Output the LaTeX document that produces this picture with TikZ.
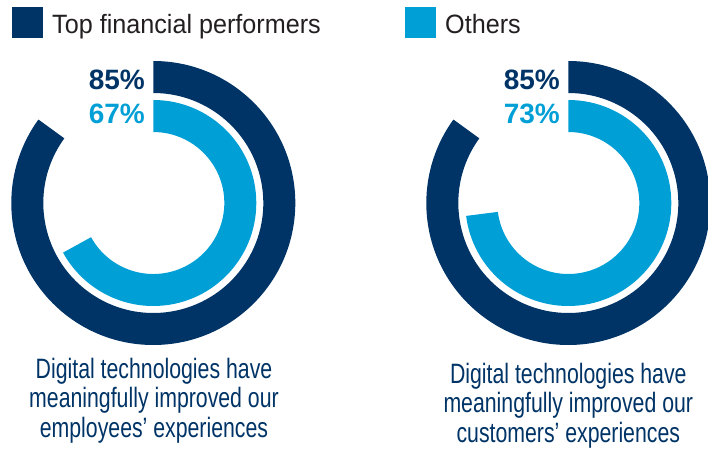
\documentclass[tikz,border=0pt]{standalone}
\usepackage{fontspec}
\setmainfont{Liberation Sans}
\newfontfamily\legfont[FakeStretch=0.95]{Liberation Sans}
\newfontfamily\condfont[FakeStretch=0.76]{Liberation Sans}
\definecolor{navy}{HTML}{003366}
\definecolor{sky}{HTML}{009FD6}
\definecolor{ink}{HTML}{231F20}
\begin{document}
\begin{tikzpicture}[x=1pt,y=1pt,
  legend/.style={anchor=base west,inner sep=0,text=ink,font=\legfont\fontsize{26.5}{30}\selectfont},
  pct/.style={anchor=base east,inner sep=0,font=\fontsize{28}{30}\selectfont\bfseries},
  caption/.style={anchor=north,inner sep=0,align=center,text=navy,font=\condfont\fontsize{28}{29.5}\selectfont}]
\useasboundingbox (0,0) rectangle (708,450);
%legend
 \fill[navy] (12,412) rectangle (43,443); %top square
 \node[legend] (legTop) at (52,416.7) {Top financial performers};
 \fill[sky] (405,412) rectangle (436,443); %others square
 \node[legend] (legOth) at (445,416.7) {Others};
%left chart
 \coordinate (cL) at (153.3,247);
 \fill[navy] ([shift={(90:142)}]cL) arc[start angle=90,end angle=-216,radius=142]
   -- ([shift={(-216:110)}]cL) arc[start angle=-216,end angle=90,radius=110] -- cycle; %85 ring
 \fill[sky] ([shift={(90:103)}]cL) arc[start angle=90,end angle=-151.2,radius=103]
   -- ([shift={(-151.2:71)}]cL) arc[start angle=-151.2,end angle=90,radius=71] -- cycle; %67 ring
 \node[pct,text=navy] (pctTopL) at (145,360.7) {85\%};
 \node[pct,text=sky] (pctOthL) at (145,326.7) {67\%};
 \node[caption] (capL) at (154,92) {Digital technologies have\\meaningfully improved our\\employees’ experiences};
%right chart
 \coordinate (cR) at (568.3,247);
 \fill[navy] ([shift={(90:142)}]cR) arc[start angle=90,end angle=-216,radius=142]
   -- ([shift={(-216:110)}]cR) arc[start angle=-216,end angle=90,radius=110] -- cycle; %85 ring
 \fill[sky] ([shift={(90:103)}]cR) arc[start angle=90,end angle=-172.8,radius=103]
   -- ([shift={(-172.8:71)}]cR) arc[start angle=-172.8,end angle=90,radius=71] -- cycle; %73 ring
 \node[pct,text=navy] (pctTopR) at (560,360.7) {85\%};
 \node[pct,text=sky] (pctOthR) at (560,326.7) {73\%};
 \node[caption] (capR) at (568.3,87) {Digital technologies have\\meaningfully improved our\\customers’ experiences};
\end{tikzpicture}
\end{document}
